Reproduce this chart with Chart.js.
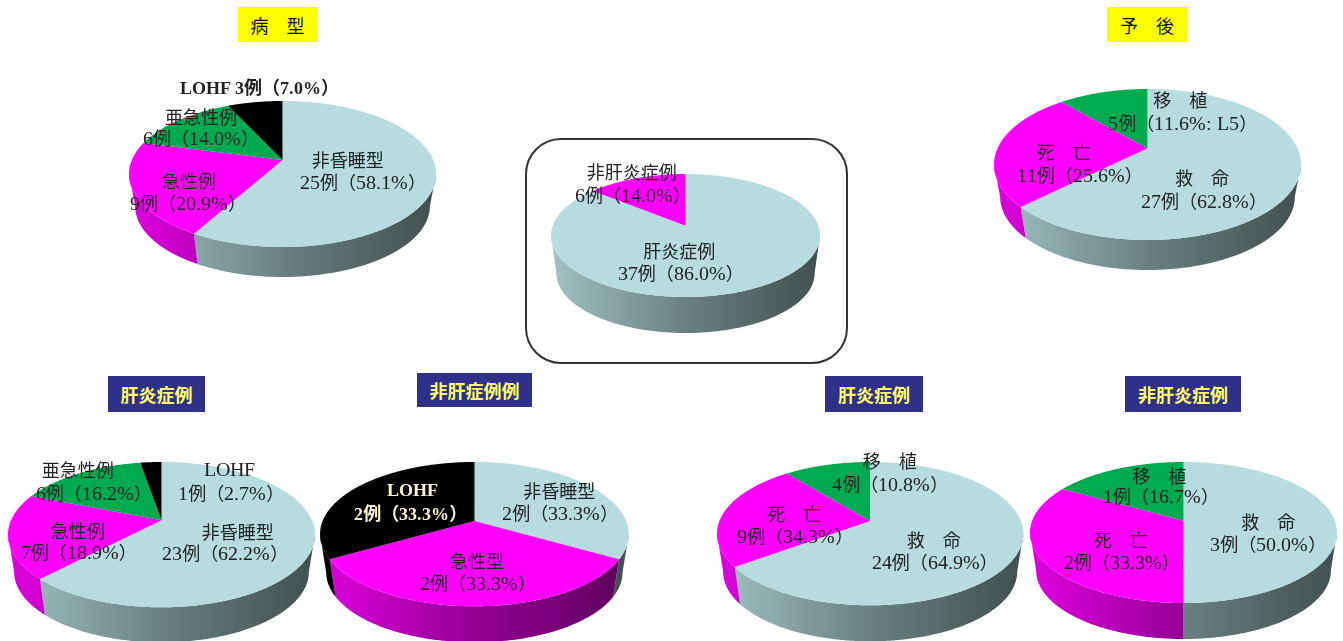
<!DOCTYPE html>
<html lang="ja">
<head>
<meta charset="utf-8">
<title>病型と予後</title>
<script src="https://cdn.jsdelivr.net/npm/chart.js@4"></script>
<style>
  @font-face { font-family: "Latin Label"; src: local("Liberation Serif"); size-adjust: 110%; font-weight: 400; }
  @font-face { font-family: "Latin Label"; src: local("Liberation Serif Bold"); size-adjust: 100%; font-weight: 700; }
  html, body { margin: 0; background: #fff; }
  #page { position: relative; width: 1343px; height: 641px; overflow: hidden; }
  #page canvas { position: absolute; }
  .frame { position: absolute; box-sizing: border-box; left: 525px; top: 138px; width: 323px; height: 226px; border: 2px solid #333; border-radius: 36px; }
  .title { position: absolute; display: flex; align-items: center; justify-content: center; font: 18px "Noto Sans CJK JP", sans-serif; }
  .title.yellow { background: #ffff00; color: #111; }
  .title.navy { background: #2e3089; color: #ffff66; font-weight: 700; }
  .label { position: absolute; white-space: pre; line-height: 22px; transform: translateY(-50%); color: #222; font: 18px "Latin Label", "Liberation Serif", "Noto Sans CJK JP", serif; }
  .label.bold { font-weight: 700; }
  .label.light { color: #fff6d0; }
</style>
</head>
<body>
<div id="page"><div class="frame"></div></div>
<script>
// case counts per slice, clockwise from 12 o'clock
const typeNames = ['非昏睡型', '急性例', '亜急性例', 'LOHF'];
const typeCounts = [25, 9, 6, 3];
const typePercents = ['58.1%', '20.9%', '14.0%', '7.0%'];

const causeNames = ['肝炎症例', '非肝炎症例'];
const causeCounts = [37, 6];
const causePercents = ['86.0%', '14.0%'];

const outcomeNames = ['救　命', '死　亡', '移　植'];
const outcomeCounts = [27, 11, 5];
const outcomePercents = ['62.8%', '25.6%', '11.6%: L5'];

const hepTypeNames = ['非昏睡型', '急性例', '亜急性例', 'LOHF'];
const hepTypeCounts = [23, 7, 6, 1];
const hepTypePercents = ['62.2%', '18.9%', '16.2%', '2.7%'];

const nonHepTypeNames = ['非昏睡型', '急性型', 'LOHF'];
const nonHepTypeCounts = [2, 2, 2];
const nonHepTypePercents = ['33.3%', '33.3%', '33.3%'];

const hepOutcomeNames = ['救　命', '死　亡', '移　植'];
const hepOutcomeCounts = [24, 9, 4];
const hepOutcomePercents = ['64.9%', '34.3%', '10.8%'];

const nonHepOutcomeNames = ['救　命', '死　亡', '移　植'];
const nonHepOutcomeCounts = [3, 2, 1];
const nonHepOutcomePercents = ['50.0%', '33.3%', '16.7%'];

const BLUE = [183, 220, 223], MAGENTA = [255, 0, 255], GREEN = [0, 170, 80], BLACK = [0, 0, 0];

// left, right, top and front of the top face, apex height, wall depth
const pies = [
  { names: typeNames, counts: typeCounts, percents: typePercents, colors: [BLUE, MAGENTA, GREEN, BLACK],
    box: [129, 436, 101, 247, 160, 30], inline: [3],
    spots: [[311.7, 160, 300, 182], [161.7, 181, 130, 203], [165, 117, 143, 138], [180, 87]] },
  { names: causeNames, counts: causeCounts, percents: causePercents, colors: [BLUE, MAGENTA],
    box: [551, 820, 174, 297, 225.7, 36], inline: [],
    spots: [[643.3, 251.7, 617.7, 273], [586.7, 172.7, 575, 195]] },
  { names: outcomeNames, counts: outcomeCounts, percents: outcomePercents, colors: [BLUE, MAGENTA, GREEN],
    box: [994, 1301, 89, 240, 148.3, 30], inline: [],
    spots: [[1175, 178, 1141, 201], [1036.7, 152.7, 1016.7, 175], [1153.3, 100, 1108.3, 123]] },
  { names: hepTypeNames, counts: hepTypeCounts, percents: hepTypePercents, colors: [BLUE, MAGENTA, GREEN, BLACK],
    box: [8, 315, 461.7, 607, 520, 35], inline: [],
    spots: [[201.7, 532, 162.3, 553], [50.7, 531.7, 20.7, 552], [41.7, 470, 35.7, 493], [204, 470, 178.3, 493]] },
  { names: nonHepTypeNames, counts: nonHepTypeCounts, percents: nonHepTypePercents, colors: [BLUE, MAGENTA, BLACK],
    box: [320, 627.7, 461.7, 606, 520.7, 36], inline: [], lightSlice: 2,
    spots: [[523.3, 491.7, 502.3, 513], [450, 561.7, 420, 583.3], [386.7, 491.7, 354.3, 513.3]] },
  { names: hepOutcomeNames, counts: hepOutcomeCounts, percents: hepOutcomePercents, colors: [BLUE, MAGENTA, GREEN],
    box: [716.7, 1023, 461.7, 605, 520.7, 36], inline: [],
    spots: [[906.7, 540.7, 871.7, 562.7], [767.3, 514.3, 737.3, 536.7], [862.7, 461.7, 832.3, 484]] },
  { names: nonHepOutcomeNames, counts: nonHepOutcomeCounts, percents: nonHepOutcomePercents, colors: [BLUE, MAGENTA, GREEN],
    box: [1030, 1337, 462, 603, 520.7, 36], inline: [],
    spots: [[1241.3, 522.3, 1210.3, 544], [1093.7, 540.7, 1063.7, 562.7], [1132.3, 476, 1103, 496.7]] }
];

const titles = [
  ['病　型', 'yellow', 238, 7, 79, 35], ['予　後', 'yellow', 1107, 7, 80, 35],
  ['肝炎症例', 'navy', 108, 376, 97, 36], ['非肝症例例', 'navy', 417, 373, 115, 34],
  ['肝炎症例', 'navy', 825, 376, 98, 36], ['非肝炎症例', 'navy', 1125, 376, 116, 36]
];

const page = document.getElementById('page');

function shade(rgb, f) {
  return `rgb(${rgb.map(c => Math.round(c * f)).join(',')})`;
}

// pie lying on a table: rim points go through a perspective map, apex sits behind the ellipse centre
const tiltedPie = {
  id: 'tiltedPie',
  beforeDatasetsDraw(chart, args, opts) {
    const { left, right, top, front, apex, depth, colors } = opts;
    const { ctx } = chart;
    const back = apex - top, near = front - apex;
    const p = (near - back) / (near + back);
    const b = back * (1 + p);
    const R = (right - left) / 2 * Math.sqrt(1 - p * p);
    const cx = (left + right) / 2 - (left - 4);
    const ox = left - 4, oy = top - 4;
    const rim = a => {
      const w = 1 - p * Math.sin(a);
      return [cx + R * Math.cos(a) / w, apex - oy + b * Math.sin(a) / w];
    };
    // lower rim of the wall is a slightly smaller ellipse further from the eye
    const ey = (top + front) / 2 - oy, ry = (front - top) / 2;
    const lower = q => [cx + (q[0] - cx) * 0.96, ey + (q[1] - ey) * 0.97 + depth + ry * 0.03];

    const arcs = chart.getDatasetMeta(0).data;
    const sampled = arcs.map(arc => {
      const pts = [];
      const n = Math.ceil((arc.endAngle - arc.startAngle) / 0.01);
      for (let i = 0; i <= n; i++) pts.push(rim(arc.startAngle + (arc.endAngle - arc.startAngle) * i / n));
      return pts;
    });

    // side wall, only where the rim runs right to left (the part facing the viewer)
    sampled.forEach((pts, i) => {
      const g = ctx.createLinearGradient(left - ox, 0, right - ox, 0);
      g.addColorStop(0, shade(colors[i], 0.88));
      g.addColorStop(0.5, shade(colors[i], 0.58));
      g.addColorStop(1, shade(colors[i], 0.36));
      ctx.fillStyle = g;
      let run = [];
      const flush = () => {
        if (run.length > 1) {
          ctx.beginPath();
          run.forEach((q, k) => k ? ctx.lineTo(q[0], q[1]) : ctx.moveTo(q[0], q[1]));
          [...run].reverse().forEach(q => {
            const d = lower(q);
            ctx.lineTo(d[0], d[1]);
          });
          ctx.closePath();
          ctx.fill();
        }
        run = [];
      };
      for (let k = 1; k < pts.length; k++) {
        if (pts[k][0] < pts[k - 1][0]) {
          if (!run.length) run.push(pts[k - 1]);
          run.push(pts[k]);
        } else flush();
      }
      flush();
    });

    // top face
    sampled.forEach((pts, i) => {
      ctx.beginPath();
      ctx.moveTo(cx, apex - oy);
      pts.forEach(q => ctx.lineTo(q[0], q[1]));
      ctx.closePath();
      ctx.fillStyle = shade(colors[i], 1);
      ctx.fill();
    });
    return false;
  }
};

function addLabel(text, x, y, cls) {
  const el = document.createElement('div');
  el.className = 'label' + (cls ? ' ' + cls : '');
  el.style.left = x + 'px';
  el.style.top = (y - 1.5) + 'px';
  el.textContent = text;
  page.appendChild(el);
}

pies.forEach(pie => {
  const [left, right, top, front, apex, depth] = pie.box;
  const canvas = document.createElement('canvas');
  const w = right - left + 8, h = front - top + depth + 8;
  canvas.style.left = (left - 4) + 'px';
  canvas.style.top = (top - 4) + 'px';
  canvas.width = w;
  canvas.height = h;
  canvas.style.width = w + 'px';
  canvas.style.height = h + 'px';
  page.appendChild(canvas);
  new Chart(canvas, {
    type: 'pie',
    data: {
      labels: pie.names,
      datasets: [{ data: pie.counts, backgroundColor: pie.colors.map(c => shade(c, 1)), borderWidth: 0 }]
    },
    options: {
      responsive: false,
      animation: false,
      events: [],
      plugins: {
        legend: { display: false },
        tooltip: { enabled: false },
        tiltedPie: { left, right, top, front, apex, depth, colors: pie.colors }
      }
    },
    plugins: [tiltedPie]
  });
});

// labels go on top of all the pies
pies.forEach(pie => {
  pie.names.forEach((name, i) => {
    const spot = pie.spots[i];
    const line = `${pie.counts[i]}例（${pie.percents[i]}）`;
    const isLohf = name === 'LOHF';
    const cls = [pie.lightSlice === i ? 'light' : '', (isLohf && (pie.inline.includes(i) || pie.lightSlice === i)) ? 'bold' : ''].join(' ').trim();
    if (pie.inline.includes(i)) {
      addLabel(`${name} ${line}`, spot[0], spot[1], cls);
    } else {
      addLabel(name, spot[0], spot[1], cls);
      addLabel(line, spot[2], spot[3], cls);
    }
  });
});

titles.forEach(([text, kind, x, y, w, h]) => {
  const el = document.createElement('div');
  el.className = 'title ' + kind;
  el.style.cssText = `left:${x}px;top:${y}px;width:${w}px;height:${h}px`;
  el.textContent = text;
  page.appendChild(el);
});
</script>
</body>
</html>
